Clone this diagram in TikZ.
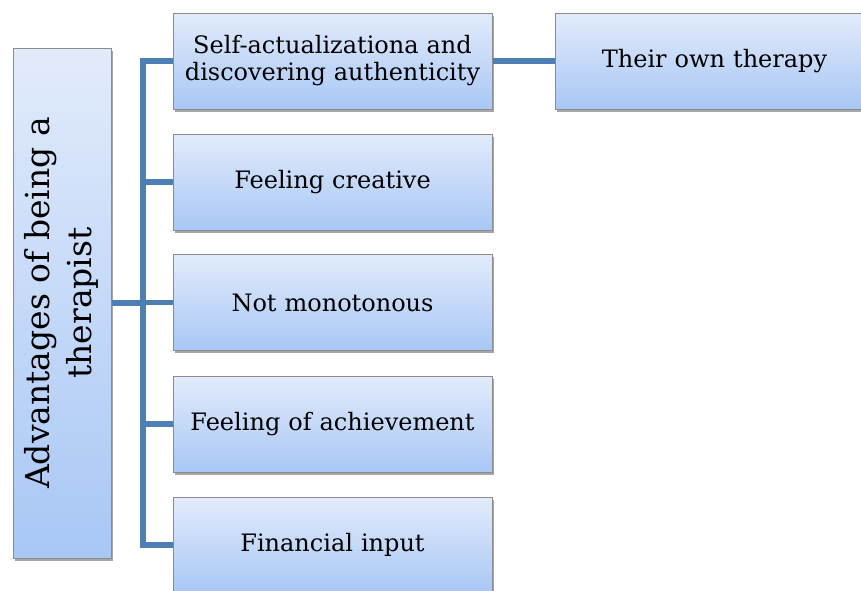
\documentclass[tikz,border=0pt]{standalone}
\usepackage{fontspec}
\setmainfont{DejaVu Serif}
\usetikzlibrary{shadows}
\definecolor{linkblue}{HTML}{4E7FB4}
\definecolor{boxtop}{HTML}{E2EBFB}
\definecolor{boxbot}{HTML}{A8C7F5}
\definecolor{boxedge}{HTML}{8C8C8C}
\begin{document}
\begin{tikzpicture}[x=1pt,y=-1pt,
  box/.style={draw=boxedge, line width=1pt, top color=boxtop, bottom color=boxbot,
    rectangle, inner sep=2pt, align=center,
    drop shadow={shadow xshift=1.5pt, shadow yshift=-2.5pt, opacity=0.35, fill=black},
    font=\fontsize{24}{27}\selectfont},
  childbox/.style={box, minimum width=319pt, minimum height=96pt, text width=315pt},
  link/.style={draw=linkblue, line width=5.5pt}
]
\useasboundingbox (0,0) rectangle (861,590);
\node[box, minimum width=98pt, minimum height=510pt] (root) at (62,303)
  {\fontsize{33}{42}\selectfont\rotatebox{90}{\begin{tabular}{@{}c@{}}Advantages of being a\\[0pt]therapist\end{tabular}}};
\node[childbox] (c1) at (332.5,61) {Self-actualizationa and\\discovering authenticity};
\node[childbox] (c2) at (332.5,182) {Feeling creative};
\node[childbox] (c3) at (332.5,302.5) {Not monotonous};
\node[childbox] (c4) at (332.5,424) {Feeling of achievement};
\node[childbox] (c5) at (332.5,545) {Financial input};
\node[childbox] (g1) at (714.5,61) {Their own therapy};
\coordinate (bus) at (143,303);
\draw[link] (root.east) -- (bus);
\draw[link] (bus) |- (c1.west);
\draw[link] (bus) |- (c2.west);
\draw[link] (bus) |- (c3.west);
\draw[link] (bus) |- (c4.west);
\draw[link] (bus) |- (c5.west);
\draw[link] (c1.east) -- (g1.west);
\end{tikzpicture}
\end{document}
